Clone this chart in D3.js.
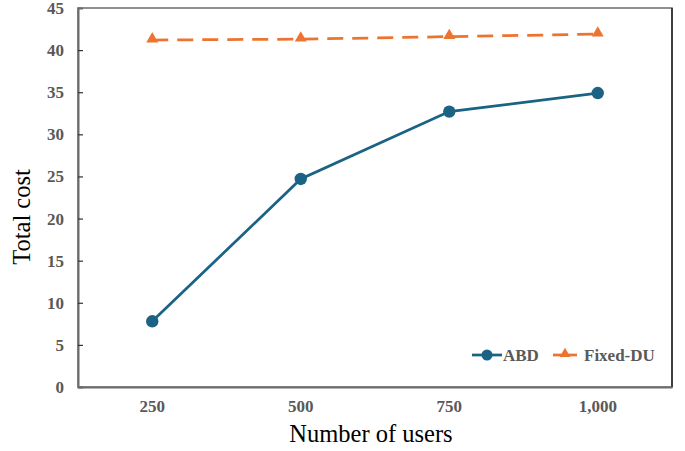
<!DOCTYPE html>
<html><head><meta charset="utf-8">
<script src="https://cdn.jsdelivr.net/npm/d3@7"></script>
<style>body{margin:0;background:#fff;}svg{display:block;}</style>
</head><body>
<script>
const categories = ["250", "500", "750", "1,000"];
const abd = [7.8, 24.7, 32.7, 34.9];
const fixedDU = [41.2, 41.3, 41.6, 41.9];
const yTicks = [0, 5, 10, 15, 20, 25, 30, 35, 40, 45];
const seriesNames = ["ABD", "Fixed-DU"];

const W = 685, H = 451;
const m = {left: 78, right: 13, top: 8, bottom: 64};
const svg = d3.select("body").append("svg").attr("width", W).attr("height", H);
const x = d3.scaleBand().domain(categories).range([m.left, W - m.right]);
const y = d3.scaleLinear().domain([0, 45]).range([H - m.bottom, m.top]);
const cx = d => x(d) + x.bandwidth() / 2;
const font = "'Liberation Serif','Times New Roman',serif";
const tickFs = 17;

// frame
svg.append("rect").attr("x", m.left).attr("y", m.top)
  .attr("width", W - m.left - m.right).attr("height", H - m.top - m.bottom)
  .attr("fill", "none").attr("stroke", "#6b6b6b").attr("stroke-width", 1.5);
svg.append("line").attr("x1", W - m.right).attr("x2", W - m.right)
  .attr("y1", m.top).attr("y2", H - m.bottom).attr("stroke", "#222").attr("stroke-width", 1.5);

// y axis
const yAxis = d3.axisLeft(y).tickValues(yTicks).tickSize(-5).tickPadding(14);
const ya = svg.append("g").attr("transform", `translate(${m.left},0)`).call(yAxis);
ya.select(".domain").attr("stroke", "#6b6b6b").attr("stroke-width", 2);
ya.selectAll(".tick line").attr("stroke", "#333").attr("stroke-width", 1.2)
  .filter(d => d === 0 || d === 45).remove();
ya.selectAll("text").attr("font-family", font).attr("font-weight", "bold")
  .attr("font-size", tickFs).attr("fill", "#595959");

// x axis
const xAxis = d3.axisBottom(x).tickSize(0).tickPadding(13);
const xa = svg.append("g").attr("transform", `translate(0,${H - m.bottom})`).call(xAxis);
xa.select(".domain").attr("stroke", "#6b6b6b").attr("stroke-width", 2);
xa.selectAll("text").attr("font-family", font).attr("font-weight", "bold")
  .attr("font-size", tickFs).attr("fill", "#595959");

// titles
svg.append("text").attr("x", 371).attr("y", 442)
  .attr("text-anchor", "middle").attr("font-family", font).attr("font-size", 24.5)
  .attr("fill", "#000").text("Number of users");
svg.append("text").attr("transform", `translate(30,217) rotate(-90)`)
  .attr("text-anchor", "middle").attr("font-family", font).attr("font-size", 24.5)
  .attr("fill", "#000").text("Total cost");

const blue = "#1a6384", orange = "#ed7430";
const line = d3.line().x((d, i) => cx(categories[i])).y(d => y(d));

svg.append("path").datum(fixedDU).attr("d", line).attr("fill", "none")
  .attr("stroke", orange).attr("stroke-width", 2.75).attr("stroke-dasharray", "16,9");
svg.selectAll(".tri").data(fixedDU).enter().append("path")
  .attr("d", d3.symbol().type(d3.symbolTriangle).size(62))
  .attr("transform", (d, i) => `translate(${cx(categories[i])},${y(d) - 1})`)
  .attr("fill", orange);

svg.append("path").datum(abd).attr("d", line).attr("fill", "none")
  .attr("stroke", blue).attr("stroke-width", 2.75);
svg.selectAll(".dot").data(abd).enter().append("circle")
  .attr("cx", (d, i) => cx(categories[i])).attr("cy", d => y(d)).attr("r", 6.2)
  .attr("fill", blue);

// legend
const ly = 355;
const lg = svg.append("g");
lg.append("line").attr("x1", 472).attr("x2", 502).attr("y1", ly).attr("y2", ly)
  .attr("stroke", blue).attr("stroke-width", 2.75);
lg.append("circle").attr("cx", 487).attr("cy", ly).attr("r", 5.5).attr("fill", blue);
lg.append("text").attr("x", 503).attr("y", ly + 6).attr("font-family", font)
  .attr("font-weight", "bold").attr("font-size", tickFs).attr("fill", "#595959").text(seriesNames[0]);
lg.append("line").attr("x1", 553).attr("x2", 577).attr("y1", ly).attr("y2", ly)
  .attr("stroke", orange).attr("stroke-width", 2.75);
lg.append("path").attr("d", d3.symbol().type(d3.symbolTriangle).size(50))
  .attr("transform", `translate(565,${ly - 1})`).attr("fill", orange);
lg.append("text").attr("x", 584).attr("y", ly + 6).attr("font-family", font)
  .attr("font-weight", "bold").attr("font-size", tickFs).attr("fill", "#595959").text(seriesNames[1]);
</script>
</body></html>
